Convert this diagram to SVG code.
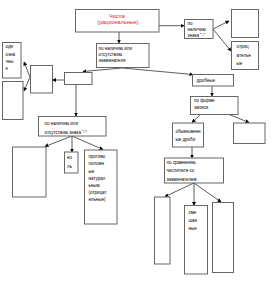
<svg xmlns="http://www.w3.org/2000/svg" width="278" height="286" viewBox="0 0 278 286">
<defs>
<marker id="ah" markerWidth="4" markerHeight="4" refX="3.5" refY="2" orient="auto" markerUnits="userSpaceOnUse">
<path d="M0,0 L4,2 L0,4 Z" fill="#000"/>
</marker>
<style>
.b{fill:#fff;stroke:#666;stroke-width:1}
.t{font-family:"Liberation Sans",Arial,sans-serif;font-size:4.5px;fill:#000}
.r{font-family:"Liberation Sans",Arial,sans-serif;font-size:5.5px;fill:#e8202a;text-anchor:middle}
.c{stroke:#333;stroke-width:0.8;fill:none;marker-end:url(#ah)}
</style>
</defs>
<rect width="278" height="286" fill="#fff"/>
<g id="connectors">
<path class="c" d="M119,32 L119,43"/>
<path class="c" d="M159,25.7 L184,25.7"/>
<path class="c" d="M213,29 L229,21"/>
<path class="c" d="M213,29 L231,51"/>
<path class="c" d="M122,68 L83,71.5"/>
<path class="c" d="M122,68 L193,74.5"/>
<path class="c" d="M64,80 L52.5,80"/>
<path class="c" d="M30,77 L24,62"/>
<path class="c" d="M30,77 L24,91"/>
<path class="c" d="M76,84 L76,116"/>
<path class="c" d="M72,136 L45,146.5"/>
<path class="c" d="M72,136 L72,152"/>
<path class="c" d="M72,136 L103,149.5"/>
<path class="c" d="M212,86 L212,96"/>
<path class="c" d="M201,114 L192,122.5"/>
<path class="c" d="M228,114 L249,122.5"/>
<path class="c" d="M192,147 L192,158"/>
<path class="c" d="M194,183 L165,196.5"/>
<path class="c" d="M194,183 L194,205.5"/>
<path class="c" d="M194,183 L221,202"/>
</g>
<g id="n_chisla"><rect class="b" x="75.5" y="9.5" width="83.5" height="22.5"/><text class="r" x="117" y="17.5">Числа</text><text class="r" x="118" y="24">(рациональные)</text></g>
<g id="n_znamen"><rect class="b" x="96.5" y="43.5" width="52.5" height="24"/><text class="t"><tspan x="98.5" y="50.2">по наличию или</tspan><tspan x="98.5" y="56">отсутствию</tspan><tspan x="98.5" y="61.7">знаменателя</tspan></text></g>
<g id="n_znak_top"><rect class="b" x="184.5" y="19.5" width="28.5" height="19"/><text class="t"><tspan x="187.5" y="24.8">по</tspan><tspan x="187.5" y="30.8">наличию</tspan><tspan x="187.5" y="37">знака "-"</tspan></text></g>
<g id="n_empty_tr"><rect class="b" x="231.5" y="9.5" width="27" height="28"/></g>
<g id="n_otric"><rect class="b" x="231.5" y="41.5" width="27" height="28"/><text class="t"><tspan x="236.5" y="48.2">отриц</tspan><tspan x="236.5" y="56.5">ательн</tspan><tspan x="236.5" y="64.8">ые</tspan></text></g>
<g id="n_odnozn"><rect class="b" x="2.5" y="42.5" width="18.5" height="35.5"/><text class="t"><tspan x="5.5" y="48.2">одн</tspan><tspan x="5.5" y="55.5">озна</tspan><tspan x="5.5" y="62.5">чны</tspan><tspan x="5.5" y="69.8">е</tspan></text></g>
<g id="n_empty_l2"><rect class="b" x="2.5" y="81.5" width="20.5" height="38"/></g>
<g id="n_empty_mid"><rect class="b" x="30.5" y="65.5" width="22" height="27.5"/></g>
<g id="n_empty_cel"><rect class="b" x="64.5" y="72.5" width="27.5" height="12"/></g>
<g id="n_drobnye"><rect class="b" x="192.5" y="74.5" width="41" height="11.5"/><text class="t" x="196.5" y="81.6">дробные</text></g>
<g id="n_forma"><rect class="b" x="190.5" y="96.5" width="47.5" height="18"/><text class="t"><tspan x="194" y="102">по форме</tspan><tspan x="194" y="108.5">записи</tspan></text></g>
<g id="n_obyk"><rect class="b" x="172.5" y="123" width="31" height="24"/><text class="t"><tspan x="175.5" y="133.2">обыкновенн</tspan><tspan x="175.5" y="140.5">ые дроби</tspan></text></g>
<g id="n_empty_dec"><rect class="b" x="233.5" y="123" width="31.5" height="20.5"/></g>
<g id="n_sravn"><rect class="b" x="164.5" y="158" width="59" height="25"/><text class="t"><tspan x="166.5" y="164.2">по сравнению</tspan><tspan x="166.5" y="172.2">числителя со</tspan><tspan x="166.5" y="180.8">знаменателем</tspan></text></g>
<g id="n_empty_b1"><rect class="b" x="154.5" y="197" width="15.5" height="67"/></g>
<g id="n_smesh"><rect class="b" x="184.5" y="205.5" width="23" height="68.5"/><text class="t"><tspan x="188.5" y="214.2">сме</tspan><tspan x="188.5" y="222.2">шан</tspan><tspan x="188.5" y="230.2">ные</tspan></text></g>
<g id="n_empty_b3"><rect class="b" x="212.5" y="202.5" width="21" height="70"/></g>
<g id="n_znak"><rect class="b" x="38.5" y="116.5" width="67.5" height="19.5"/><text class="t"><tspan x="44.5" y="124.8">по наличию или</tspan><tspan x="44.5" y="134">отсутствию знака "-"</tspan></text></g>
<g id="n_empty_pos"><rect class="b" x="12.5" y="147" width="33.5" height="50"/></g>
<g id="n_nol"><rect class="b" x="64.5" y="152" width="13.5" height="21"/><text class="t"><tspan x="67" y="159.2">но</tspan><tspan x="67" y="168.2">ль</tspan></text></g>
<g id="n_protiv"><rect class="b" x="84.5" y="150" width="32.5" height="74"/><text class="t"><tspan x="88.5" y="158.2">противо</tspan><tspan x="88.5" y="165.4">положн</tspan><tspan x="88.5" y="172.6">ые</tspan><tspan x="88.5" y="179.8">натурал</tspan><tspan x="88.5" y="187">ьным</tspan><tspan x="88.5" y="194.2">(отрицат</tspan><tspan x="88.5" y="201.4">ельные)</tspan></text></g>
</svg>
